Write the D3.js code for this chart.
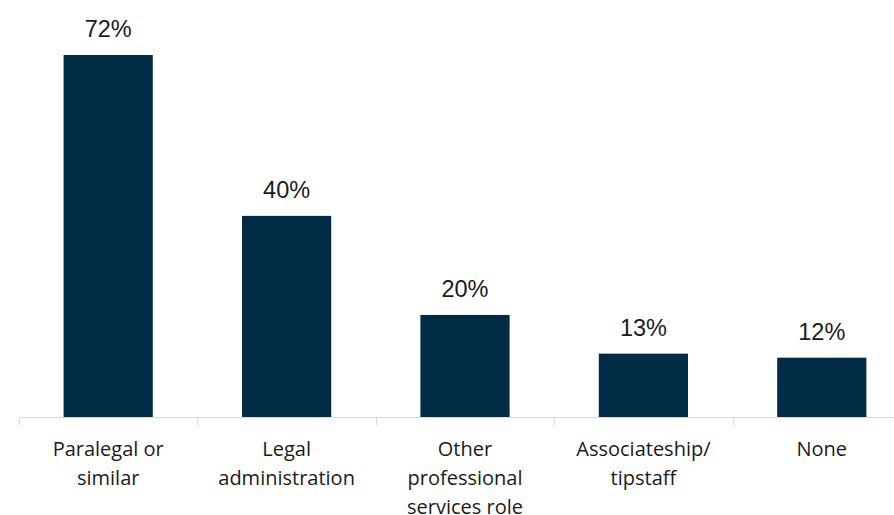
<!DOCTYPE html>
<html>
<head>
  <title>roles</title>
  <script src="https://d3js.org/d3.v7.min.js"></script>
  <style>
    body { margin: 0; background: #fff; }
  </style>
</head>
<body>
  <svg width="894" height="515" id="mainsvg"></svg>
  <script>
    const categories = [
      ["Paralegal or", "similar"],
      ["Legal", "administration"],
      ["Other", "professional", "services role"],
      ["Associateship/", "tipstaff"],
      ["None"]
    ];
    const values = [72, 40, 20.3, 12.6, 11.8];
    const valueLabels = ["72%", "40%", "20%", "13%", "12%"];

    let svg = d3.select('#mainsvg');
    const left = 19, step = 178.4, baseY = 417;
    const keys = categories.map((d, i) => i);

    let x = d3.scaleBand().domain(keys)
      .range([left, left + step * keys.length])
      .paddingInner(0.5).paddingOuter(0.25);
    let y = d3.scaleLinear().domain([0, 72]).range([baseY, 55]);

    svg.selectAll('rect.bar').data(values)
      .enter().append('rect')
      .attr('class', 'bar')
      .attr('x', (d, i) => x(i))
      .attr('width', x.bandwidth())
      .attr('y', d => y(d))
      .attr('height', d => baseY - y(d))
      .attr('fill', '#022b45');

    // axis line + ticks between categories
    svg.append('line')
      .attr('x1', left).attr('x2', left + step * keys.length)
      .attr('y1', baseY + 0.5).attr('y2', baseY + 0.5)
      .attr('stroke', '#d9d9d9').attr('stroke-width', 1.2);
    svg.selectAll('line.tick').data(d3.range(keys.length + 1))
      .enter().append('line')
      .attr('class', 'tick')
      .attr('x1', i => Math.round(left + step * i) + 0.5)
      .attr('x2', i => Math.round(left + step * i) + 0.5)
      .attr('y1', baseY).attr('y2', baseY + 8)
      .attr('stroke', '#d9d9d9').attr('stroke-width', 1.2);

    svg.selectAll('text.val').data(values)
      .enter().append('text')
      .attr('class', 'val')
      .attr('x', (d, i) => x(i) + x.bandwidth() / 2)
      .attr('y', d => y(d) - 18)
      .attr('text-anchor', 'middle')
      .attr('font-family', 'Liberation Sans, Arial, sans-serif')
      .attr('font-size', 23.5)
      .attr('fill', '#1a1a1a')
      .text((d, i) => valueLabels[i]);

    let cat = svg.selectAll('text.cat').data(categories)
      .enter().append('text')
      .attr('class', 'cat')
      .attr('x', (d, i) => x(i) + x.bandwidth() / 2)
      .attr('y', 456)
      .attr('text-anchor', 'middle')
      .attr('font-family', '"Open Sans", sans-serif')
      .attr('font-size', 20)
      .attr('fill', '#1a1a1a');
    cat.each(function (lines, i) {
      d3.select(this).selectAll('tspan').data(lines)
        .enter().append('tspan')
        .attr('x', x(i) + x.bandwidth() / 2)
        .attr('dy', (d, j) => j === 0 ? 0 : 29)
        .text(d => d);
    });
  </script>
</body>
</html>
